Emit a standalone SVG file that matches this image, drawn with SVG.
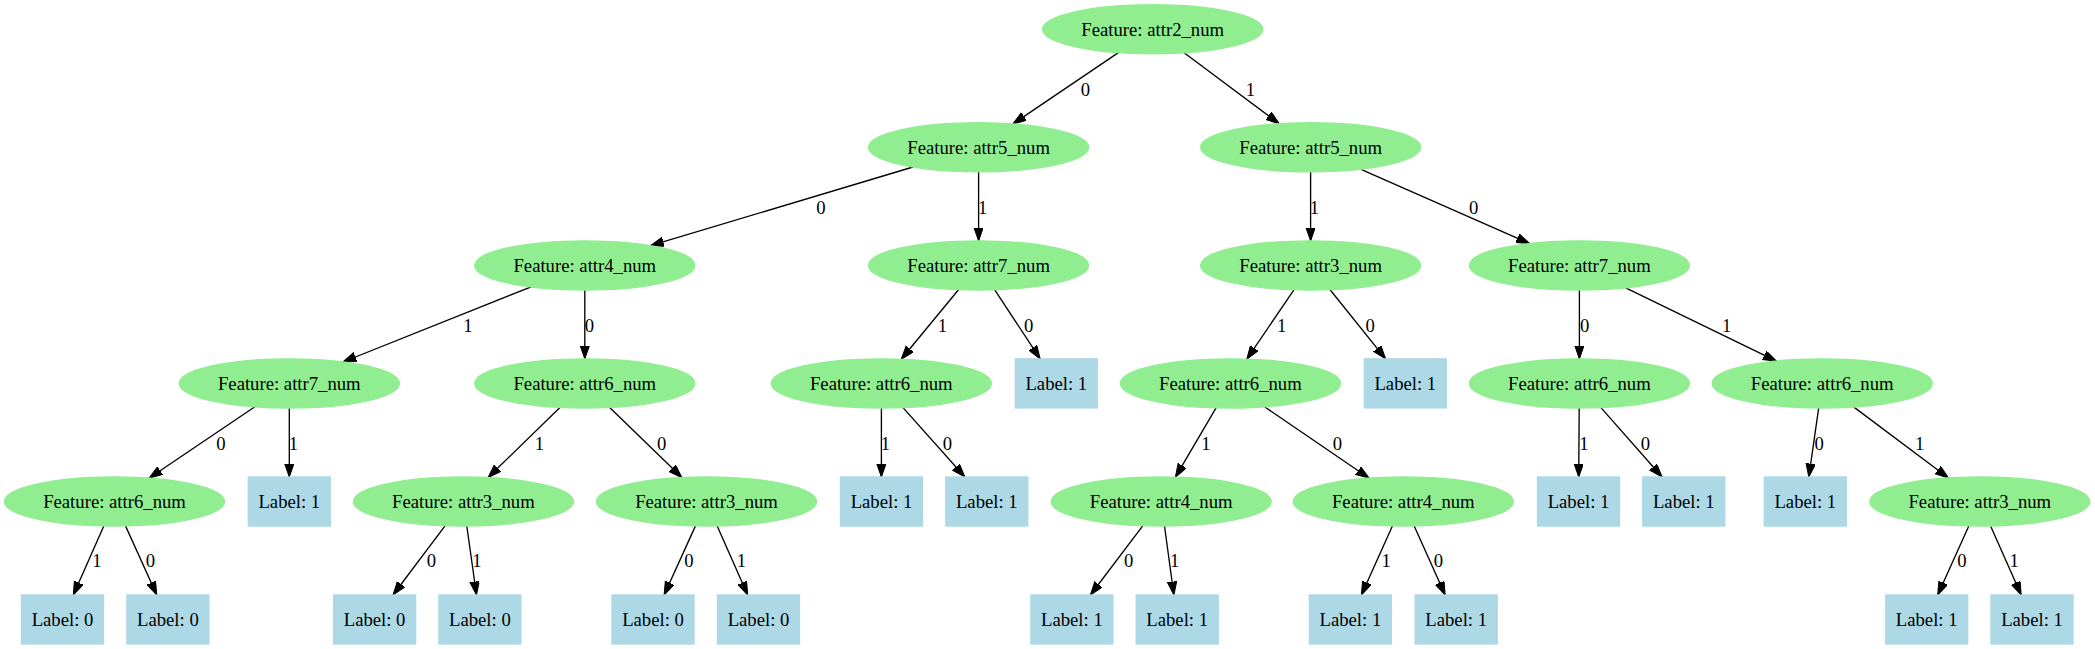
<svg xmlns="http://www.w3.org/2000/svg" width="2095" height="649" viewBox="0 0 2095 649">
<style>
.f{fill:#90ee90;stroke:#90ee90;stroke-width:1.34}
.l{fill:#add8e6;stroke:#add8e6;stroke-width:1.34}
text{font-family:"Liberation Serif","Times New Roman",serif;font-size:18.7px;fill:#000;text-anchor:middle}
.e path{fill:none;stroke:#000;stroke-width:1.34;marker-end:url(#a)}
</style>
<defs>
<marker id="a" markerUnits="userSpaceOnUse" markerWidth="16" markerHeight="12" refX="13.4" refY="4.7" orient="auto">
<path d="M0,0 L13.4,4.7 L0,9.4 z" fill="#000" stroke="#000" stroke-width="1"/>
</marker>
</defs>
<rect width="2095" height="649" fill="#fff"/>
<g id="edges" class="e">
<path d="M1118.4,52.6 L1012.9,124"/>
<path d="M1184.1,52.8 L1279.3,123.8"/>
<path d="M913,167 L650.4,245.7"/>
<path d="M978.6,171.8 L978.6,240.9"/>
<path d="M1310.6,171.8 L1310.6,240.9"/>
<path d="M1360.4,169.2 L1529.7,243.6"/>
<path d="M531.2,286.8 L342.9,362"/>
<path d="M584.8,289.9 L584.8,358.9"/>
<path d="M958.7,289.5 L901.2,359.3"/>
<path d="M994.6,289.6 L1040.2,358.9"/>
<path d="M1294.1,289.6 L1246.8,359.2"/>
<path d="M1329.9,289.5 L1385.6,358.9"/>
<path d="M1579.4,289.9 L1579.4,358.9"/>
<path d="M1625.2,287.7 L1776.4,361.1"/>
<path d="M254.9,406.7 L149,478.2"/>
<path d="M289.3,407.9 L289.3,477"/>
<path d="M560.2,407.3 L488,477.6"/>
<path d="M609.4,407.3 L681.9,477.6"/>
<path d="M881.4,407.9 L881.4,477"/>
<path d="M902.8,407.4 L964.9,477"/>
<path d="M1216.2,407.7 L1175.4,477.2"/>
<path d="M1264.5,406.7 L1369.2,478.2"/>
<path d="M1579.2,407.9 L1578.7,477"/>
<path d="M1600.7,407.4 L1662.1,477"/>
<path d="M1818.7,407.9 L1808.8,477"/>
<path d="M1853.6,406.9 L1948.5,478"/>
<path d="M103.8,525.9 L73.3,595"/>
<path d="M125.5,525.9 L156.8,595"/>
<path d="M445.2,525.7 L393,595"/>
<path d="M466.8,526 L476.5,595"/>
<path d="M695.5,525.9 L664.1,595"/>
<path d="M717.2,525.9 L747.7,595"/>
<path d="M1142.9,525.7 L1090.4,595"/>
<path d="M1164.5,526 L1173.9,595"/>
<path d="M1392.4,525.9 L1361.4,595"/>
<path d="M1414.2,525.9 L1445.2,595"/>
<path d="M1968.8,525.9 L1937.7,595"/>
<path d="M1990.6,525.9 L2021.2,595"/>
</g>
<g id="edge-labels">
<text x="1085.3" y="95.6">0</text>
<text x="1250.4" y="95.6">1</text>
<text x="821" y="213.6">0</text>
<text x="982.6" y="213.6">1</text>
<text x="1314.3" y="213.6">1</text>
<text x="1473.7" y="213.6">0</text>
<text x="467.9" y="332">1</text>
<text x="589.3" y="332">0</text>
<text x="942.4" y="332">1</text>
<text x="1028.6" y="332">0</text>
<text x="1281.7" y="332">1</text>
<text x="1370.1" y="332">0</text>
<text x="1584.7" y="332">0</text>
<text x="1726.7" y="332">1</text>
<text x="221" y="449.6">0</text>
<text x="293.3" y="449.6">1</text>
<text x="539.3" y="449.6">1</text>
<text x="661.6" y="449.6">0</text>
<text x="885.3" y="449.6">1</text>
<text x="947.3" y="449.6">0</text>
<text x="1205.8" y="449.6">1</text>
<text x="1337.5" y="449.6">0</text>
<text x="1583.8" y="449.6">1</text>
<text x="1645.4" y="449.6">0</text>
<text x="1819.1" y="449.6">0</text>
<text x="1919.6" y="449.6">1</text>
<text x="96.9" y="567.3">1</text>
<text x="150.4" y="567.3">0</text>
<text x="431.3" y="567.3">0</text>
<text x="476.8" y="567.3">1</text>
<text x="688.8" y="567.3">0</text>
<text x="741.5" y="567.3">1</text>
<text x="1128.6" y="567.3">0</text>
<text x="1174.6" y="567.3">1</text>
<text x="1386.2" y="567.3">1</text>
<text x="1438.3" y="567.3">0</text>
<text x="1962" y="567.3">0</text>
<text x="2014.2" y="567.3">1</text>
</g>
<g id="n0"><ellipse class="f" cx="1152.7" cy="29.3" rx="110" ry="24.6"/><text x="1152.7" y="35.8">Feature: attr2_num</text></g>
<g id="n1"><ellipse class="f" cx="978.6" cy="147.3" rx="110" ry="24.6"/><text x="978.6" y="153.8">Feature: attr5_num</text></g>
<g id="n2"><ellipse class="f" cx="1310.7" cy="147.3" rx="110" ry="24.6"/><text x="1310.7" y="153.8">Feature: attr5_num</text></g>
<g id="n3"><ellipse class="f" cx="584.8" cy="265.4" rx="110" ry="24.6"/><text x="584.8" y="271.9">Feature: attr4_num</text></g>
<g id="n4"><ellipse class="f" cx="978.6" cy="265.4" rx="110" ry="24.6"/><text x="978.6" y="271.9">Feature: attr7_num</text></g>
<g id="n5"><ellipse class="f" cx="1310.6" cy="265.4" rx="110" ry="24.6"/><text x="1310.6" y="271.9">Feature: attr3_num</text></g>
<g id="n6"><ellipse class="f" cx="1579.4" cy="265.4" rx="110" ry="24.6"/><text x="1579.4" y="271.9">Feature: attr7_num</text></g>
<g id="n7"><ellipse class="f" cx="289.3" cy="383.4" rx="110" ry="24.6"/><text x="289.3" y="389.9">Feature: attr7_num</text></g>
<g id="n8"><ellipse class="f" cx="584.8" cy="383.4" rx="110" ry="24.6"/><text x="584.8" y="389.9">Feature: attr6_num</text></g>
<g id="n9"><ellipse class="f" cx="881.3" cy="383.4" rx="110" ry="24.6"/><text x="881.3" y="389.9">Feature: attr6_num</text></g>
<g id="n10"><rect class="l" x="1015.3" y="358.9" width="82" height="49"/><text x="1056.3" y="389.9">Label: 1</text></g>
<g id="n11"><ellipse class="f" cx="1230.4" cy="383.4" rx="110" ry="24.6"/><text x="1230.4" y="389.9">Feature: attr6_num</text></g>
<g id="n12"><rect class="l" x="1364.3" y="358.9" width="82" height="49"/><text x="1405.3" y="389.9">Label: 1</text></g>
<g id="n13"><ellipse class="f" cx="1579.4" cy="383.4" rx="110" ry="24.6"/><text x="1579.4" y="389.9">Feature: attr6_num</text></g>
<g id="n14"><ellipse class="f" cx="1822.2" cy="383.4" rx="110" ry="24.6"/><text x="1822.2" y="389.9">Feature: attr6_num</text></g>
<g id="n15"><ellipse class="f" cx="114.5" cy="501.5" rx="110" ry="24.6"/><text x="114.5" y="508">Feature: attr6_num</text></g>
<g id="n16"><rect class="l" x="248.3" y="477" width="82" height="49"/><text x="289.3" y="508">Label: 1</text></g>
<g id="n17"><ellipse class="f" cx="463.4" cy="501.5" rx="110" ry="24.6"/><text x="463.4" y="508">Feature: attr3_num</text></g>
<g id="n18"><ellipse class="f" cx="706.5" cy="501.5" rx="110" ry="24.6"/><text x="706.5" y="508">Feature: attr3_num</text></g>
<g id="n19"><rect class="l" x="840.5" y="477" width="82" height="49"/><text x="881.5" y="508">Label: 1</text></g>
<g id="n20"><rect class="l" x="945.8" y="477" width="82" height="49"/><text x="986.8" y="508">Label: 1</text></g>
<g id="n21"><ellipse class="f" cx="1161.2" cy="501.5" rx="110" ry="24.6"/><text x="1161.2" y="508">Feature: attr4_num</text></g>
<g id="n22"><ellipse class="f" cx="1403.3" cy="501.5" rx="110" ry="24.6"/><text x="1403.3" y="508">Feature: attr4_num</text></g>
<g id="n23"><rect class="l" x="1537.5" y="477" width="82" height="49"/><text x="1578.5" y="508">Label: 1</text></g>
<g id="n24"><rect class="l" x="1642.8" y="477" width="82" height="49"/><text x="1683.8" y="508">Label: 1</text></g>
<g id="n25"><rect class="l" x="1764.3" y="477" width="82" height="49"/><text x="1805.3" y="508">Label: 1</text></g>
<g id="n26"><ellipse class="f" cx="1979.8" cy="501.5" rx="110" ry="24.6"/><text x="1979.8" y="508">Feature: attr3_num</text></g>
<g id="n27"><rect class="l" x="21.5" y="595" width="82" height="49"/><text x="62.5" y="626">Label: 0</text></g>
<g id="n28"><rect class="l" x="126.9" y="595" width="82" height="49"/><text x="167.9" y="626">Label: 0</text></g>
<g id="n29"><rect class="l" x="333.6" y="595" width="82" height="49"/><text x="374.6" y="626">Label: 0</text></g>
<g id="n30"><rect class="l" x="438.9" y="595" width="82" height="49"/><text x="479.9" y="626">Label: 0</text></g>
<g id="n31"><rect class="l" x="612" y="595" width="82" height="49"/><text x="653" y="626">Label: 0</text></g>
<g id="n32"><rect class="l" x="717.5" y="595" width="82" height="49"/><text x="758.5" y="626">Label: 0</text></g>
<g id="n33"><rect class="l" x="1030.9" y="595" width="82" height="49"/><text x="1071.9" y="626">Label: 1</text></g>
<g id="n34"><rect class="l" x="1136.2" y="595" width="82" height="49"/><text x="1177.2" y="626">Label: 1</text></g>
<g id="n35"><rect class="l" x="1309.4" y="595" width="82" height="49"/><text x="1350.4" y="626">Label: 1</text></g>
<g id="n36"><rect class="l" x="1415.2" y="595" width="82" height="49"/><text x="1456.2" y="626">Label: 1</text></g>
<g id="n37"><rect class="l" x="1885.7" y="595" width="82" height="49"/><text x="1926.7" y="626">Label: 1</text></g>
<g id="n38"><rect class="l" x="1991" y="595" width="82" height="49"/><text x="2032" y="626">Label: 1</text></g>
</svg>
